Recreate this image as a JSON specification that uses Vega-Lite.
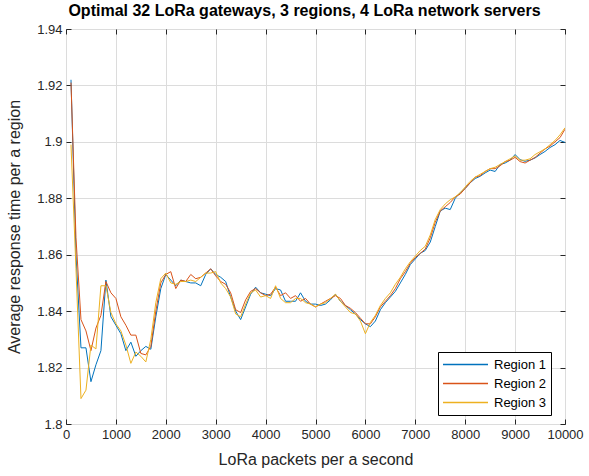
{
  "$schema": "https://vega.github.io/schema/vega-lite/v6.json",
  "width": 499,
  "height": 395,
  "autosize": {"type": "none"},
  "padding": {"left": 66, "top": 29, "right": 24, "bottom": 52},
  "background": "white",
  "title": {"text": "Optimal 32 LoRa gateways, 3 regions, 4 LoRa network servers", "font": "Liberation Sans", "fontSize": 16, "fontWeight": "bold", "color": "#000000", "offset": 4, "dx": -11},
  "config": {
    "view": {"stroke": "#262626", "strokeWidth": 1},
    "font": "Liberation Sans",
    "axis": {"labelFont": "Liberation Sans", "titleFont": "Liberation Sans", "labelColor": "#262626", "titleColor": "#262626", "labelFontSize": 13, "titleFontSize": 16, "titleFontWeight": "normal", "gridColor": "#dcdcdc", "gridWidth": 1, "domainColor": "#262626", "tickColor": "#262626", "tickSize": -5, "labelPadding": 9, "labelOverlap": false, "labelFlush": false}
  },
  "datasets": {
    "d": [
      {"x":100,"y":1.922,"s":"Region 1"},{"x":200,"y":1.86,"s":"Region 1"},{"x":300,"y":1.827,"s":"Region 1"},{"x":400,"y":1.827,"s":"Region 1"},{"x":500,"y":1.815,"s":"Region 1"},{"x":600,"y":1.821,"s":"Region 1"},{"x":700,"y":1.826,"s":"Region 1"},{"x":800,"y":1.851,"s":"Region 1"},{"x":900,"y":1.838,"s":"Region 1"},{"x":1000,"y":1.835,"s":"Region 1"},
      {"x":1100,"y":1.832,"s":"Region 1"},{"x":1200,"y":1.826,"s":"Region 1"},{"x":1300,"y":1.829,"s":"Region 1"},{"x":1400,"y":1.824,"s":"Region 1"},{"x":1500,"y":1.826,"s":"Region 1"},{"x":1600,"y":1.8275,"s":"Region 1"},{"x":1700,"y":1.8265,"s":"Region 1"},{"x":1800,"y":1.838,"s":"Region 1"},{"x":1900,"y":1.848,"s":"Region 1"},{"x":2000,"y":1.853,"s":"Region 1"},
      {"x":2100,"y":1.851,"s":"Region 1"},{"x":2200,"y":1.849,"s":"Region 1"},{"x":2300,"y":1.851,"s":"Region 1"},{"x":2400,"y":1.8505,"s":"Region 1"},{"x":2500,"y":1.85,"s":"Region 1"},{"x":2600,"y":1.85,"s":"Region 1"},{"x":2700,"y":1.849,"s":"Region 1"},{"x":2800,"y":1.853,"s":"Region 1"},{"x":2900,"y":1.855,"s":"Region 1"},{"x":3000,"y":1.853,"s":"Region 1"},
      {"x":3100,"y":1.852,"s":"Region 1"},{"x":3200,"y":1.8505,"s":"Region 1"},{"x":3300,"y":1.845,"s":"Region 1"},{"x":3400,"y":1.84,"s":"Region 1"},{"x":3500,"y":1.837,"s":"Region 1"},{"x":3600,"y":1.8415,"s":"Region 1"},{"x":3700,"y":1.846,"s":"Region 1"},{"x":3800,"y":1.8485,"s":"Region 1"},{"x":3900,"y":1.8465,"s":"Region 1"},{"x":4000,"y":1.846,"s":"Region 1"},
      {"x":4100,"y":1.8455,"s":"Region 1"},{"x":4200,"y":1.848,"s":"Region 1"},{"x":4300,"y":1.8475,"s":"Region 1"},{"x":4400,"y":1.8435,"s":"Region 1"},{"x":4500,"y":1.8435,"s":"Region 1"},{"x":4600,"y":1.8435,"s":"Region 1"},{"x":4700,"y":1.8465,"s":"Region 1"},{"x":4800,"y":1.8435,"s":"Region 1"},{"x":4900,"y":1.8425,"s":"Region 1"},{"x":5000,"y":1.8425,"s":"Region 1"},
      {"x":5100,"y":1.842,"s":"Region 1"},{"x":5200,"y":1.8425,"s":"Region 1"},{"x":5300,"y":1.844,"s":"Region 1"},{"x":5400,"y":1.846,"s":"Region 1"},{"x":5500,"y":1.8435,"s":"Region 1"},{"x":5600,"y":1.842,"s":"Region 1"},{"x":5700,"y":1.8405,"s":"Region 1"},{"x":5800,"y":1.839,"s":"Region 1"},{"x":5900,"y":1.837,"s":"Region 1"},{"x":6000,"y":1.8355,"s":"Region 1"},
      {"x":6100,"y":1.8345,"s":"Region 1"},{"x":6200,"y":1.8365,"s":"Region 1"},{"x":6300,"y":1.8405,"s":"Region 1"},{"x":6400,"y":1.843,"s":"Region 1"},{"x":6500,"y":1.845,"s":"Region 1"},{"x":6600,"y":1.847,"s":"Region 1"},{"x":6700,"y":1.85,"s":"Region 1"},{"x":6800,"y":1.853,"s":"Region 1"},{"x":6900,"y":1.8565,"s":"Region 1"},{"x":7000,"y":1.8585,"s":"Region 1"},
      {"x":7100,"y":1.8605,"s":"Region 1"},{"x":7200,"y":1.8615,"s":"Region 1"},{"x":7300,"y":1.8645,"s":"Region 1"},{"x":7400,"y":1.87,"s":"Region 1"},{"x":7500,"y":1.8755,"s":"Region 1"},{"x":7600,"y":1.8765,"s":"Region 1"},{"x":7700,"y":1.876,"s":"Region 1"},{"x":7800,"y":1.88,"s":"Region 1"},{"x":7900,"y":1.882,"s":"Region 1"},{"x":8000,"y":1.8835,"s":"Region 1"},
      {"x":8100,"y":1.8855,"s":"Region 1"},{"x":8200,"y":1.887,"s":"Region 1"},{"x":8300,"y":1.8878,"s":"Region 1"},{"x":8400,"y":1.889,"s":"Region 1"},{"x":8500,"y":1.89,"s":"Region 1"},{"x":8600,"y":1.8895,"s":"Region 1"},{"x":8700,"y":1.892,"s":"Region 1"},{"x":8800,"y":1.8925,"s":"Region 1"},{"x":8900,"y":1.8935,"s":"Region 1"},{"x":9000,"y":1.8955,"s":"Region 1"},
      {"x":9100,"y":1.8937,"s":"Region 1"},{"x":9200,"y":1.8931,"s":"Region 1"},{"x":9300,"y":1.8935,"s":"Region 1"},{"x":9400,"y":1.8943,"s":"Region 1"},{"x":9500,"y":1.8955,"s":"Region 1"},{"x":9600,"y":1.8966,"s":"Region 1"},{"x":9700,"y":1.898,"s":"Region 1"},{"x":9800,"y":1.899,"s":"Region 1"},{"x":9900,"y":1.9005,"s":"Region 1"},{"x":10000,"y":1.8998,"s":"Region 1"},

      {"x":100,"y":1.921,"s":"Region 2"},{"x":200,"y":1.866,"s":"Region 2"},{"x":300,"y":1.837,"s":"Region 2"},{"x":400,"y":1.833,"s":"Region 2"},{"x":500,"y":1.826,"s":"Region 2"},{"x":600,"y":1.834,"s":"Region 2"},{"x":700,"y":1.8385,"s":"Region 2"},{"x":800,"y":1.8505,"s":"Region 2"},{"x":900,"y":1.8465,"s":"Region 2"},{"x":1000,"y":1.8445,"s":"Region 2"},
      {"x":1100,"y":1.838,"s":"Region 2"},{"x":1200,"y":1.835,"s":"Region 2"},{"x":1300,"y":1.8315,"s":"Region 2"},{"x":1400,"y":1.8315,"s":"Region 2"},{"x":1500,"y":1.825,"s":"Region 2"},{"x":1600,"y":1.8245,"s":"Region 2"},{"x":1700,"y":1.8275,"s":"Region 2"},{"x":1800,"y":1.84,"s":"Region 2"},{"x":1900,"y":1.85,"s":"Region 2"},{"x":2000,"y":1.853,"s":"Region 2"},
      {"x":2100,"y":1.854,"s":"Region 2"},{"x":2200,"y":1.848,"s":"Region 2"},{"x":2300,"y":1.851,"s":"Region 2"},{"x":2400,"y":1.8505,"s":"Region 2"},{"x":2500,"y":1.853,"s":"Region 2"},{"x":2600,"y":1.8515,"s":"Region 2"},{"x":2700,"y":1.852,"s":"Region 2"},{"x":2800,"y":1.8535,"s":"Region 2"},{"x":2900,"y":1.855,"s":"Region 2"},{"x":3000,"y":1.8525,"s":"Region 2"},
      {"x":3100,"y":1.8505,"s":"Region 2"},{"x":3200,"y":1.8495,"s":"Region 2"},{"x":3300,"y":1.8465,"s":"Region 2"},{"x":3400,"y":1.8405,"s":"Region 2"},{"x":3500,"y":1.8395,"s":"Region 2"},{"x":3600,"y":1.844,"s":"Region 2"},{"x":3700,"y":1.847,"s":"Region 2"},{"x":3800,"y":1.848,"s":"Region 2"},{"x":3900,"y":1.8465,"s":"Region 2"},{"x":4000,"y":1.8455,"s":"Region 2"},
      {"x":4100,"y":1.846,"s":"Region 2"},{"x":4200,"y":1.8485,"s":"Region 2"},{"x":4300,"y":1.8455,"s":"Region 2"},{"x":4400,"y":1.8465,"s":"Region 2"},{"x":4500,"y":1.8445,"s":"Region 2"},{"x":4600,"y":1.8455,"s":"Region 2"},{"x":4700,"y":1.8435,"s":"Region 2"},{"x":4800,"y":1.8445,"s":"Region 2"},{"x":4900,"y":1.8425,"s":"Region 2"},{"x":5000,"y":1.8415,"s":"Region 2"},
      {"x":5100,"y":1.8425,"s":"Region 2"},{"x":5200,"y":1.8435,"s":"Region 2"},{"x":5300,"y":1.8445,"s":"Region 2"},{"x":5400,"y":1.8455,"s":"Region 2"},{"x":5500,"y":1.8445,"s":"Region 2"},{"x":5600,"y":1.842,"s":"Region 2"},{"x":5700,"y":1.841,"s":"Region 2"},{"x":5800,"y":1.8395,"s":"Region 2"},{"x":5900,"y":1.8375,"s":"Region 2"},{"x":6000,"y":1.8355,"s":"Region 2"},
      {"x":6100,"y":1.8355,"s":"Region 2"},{"x":6200,"y":1.838,"s":"Region 2"},{"x":6300,"y":1.8415,"s":"Region 2"},{"x":6400,"y":1.8435,"s":"Region 2"},{"x":6500,"y":1.8455,"s":"Region 2"},{"x":6600,"y":1.848,"s":"Region 2"},{"x":6700,"y":1.8515,"s":"Region 2"},{"x":6800,"y":1.854,"s":"Region 2"},{"x":6900,"y":1.857,"s":"Region 2"},{"x":7000,"y":1.859,"s":"Region 2"},
      {"x":7100,"y":1.8605,"s":"Region 2"},{"x":7200,"y":1.862,"s":"Region 2"},{"x":7300,"y":1.866,"s":"Region 2"},{"x":7400,"y":1.8715,"s":"Region 2"},{"x":7500,"y":1.8755,"s":"Region 2"},{"x":7600,"y":1.877,"s":"Region 2"},{"x":7700,"y":1.8785,"s":"Region 2"},{"x":7800,"y":1.8805,"s":"Region 2"},{"x":7900,"y":1.8815,"s":"Region 2"},{"x":8000,"y":1.8835,"s":"Region 2"},
      {"x":8100,"y":1.8855,"s":"Region 2"},{"x":8200,"y":1.8875,"s":"Region 2"},{"x":8300,"y":1.888,"s":"Region 2"},{"x":8400,"y":1.8895,"s":"Region 2"},{"x":8500,"y":1.8905,"s":"Region 2"},{"x":8600,"y":1.8905,"s":"Region 2"},{"x":8700,"y":1.8915,"s":"Region 2"},{"x":8800,"y":1.893,"s":"Region 2"},{"x":8900,"y":1.8935,"s":"Region 2"},{"x":9000,"y":1.8945,"s":"Region 2"},
      {"x":9100,"y":1.893,"s":"Region 2"},{"x":9200,"y":1.8925,"s":"Region 2"},{"x":9300,"y":1.8935,"s":"Region 2"},{"x":9400,"y":1.8945,"s":"Region 2"},{"x":9500,"y":1.896,"s":"Region 2"},{"x":9600,"y":1.8975,"s":"Region 2"},{"x":9700,"y":1.8985,"s":"Region 2"},{"x":9800,"y":1.9,"s":"Region 2"},{"x":9900,"y":1.9015,"s":"Region 2"},{"x":10000,"y":1.9045,"s":"Region 2"},

      {"x":100,"y":1.899,"s":"Region 3"},{"x":200,"y":1.855,"s":"Region 3"},{"x":300,"y":1.809,"s":"Region 3"},{"x":400,"y":1.812,"s":"Region 3"},{"x":500,"y":1.828,"s":"Region 3"},{"x":600,"y":1.8266,"s":"Region 3"},{"x":700,"y":1.849,"s":"Region 3"},{"x":800,"y":1.849,"s":"Region 3"},{"x":900,"y":1.8395,"s":"Region 3"},{"x":1000,"y":1.8355,"s":"Region 3"},
      {"x":1100,"y":1.833,"s":"Region 3"},{"x":1200,"y":1.828,"s":"Region 3"},{"x":1300,"y":1.8215,"s":"Region 3"},{"x":1400,"y":1.8255,"s":"Region 3"},{"x":1500,"y":1.824,"s":"Region 3"},{"x":1600,"y":1.822,"s":"Region 3"},{"x":1700,"y":1.83,"s":"Region 3"},{"x":1800,"y":1.843,"s":"Region 3"},{"x":1900,"y":1.8515,"s":"Region 3"},{"x":2000,"y":1.8535,"s":"Region 3"},
      {"x":2100,"y":1.85,"s":"Region 3"},{"x":2200,"y":1.8495,"s":"Region 3"},{"x":2300,"y":1.8505,"s":"Region 3"},{"x":2400,"y":1.8505,"s":"Region 3"},{"x":2500,"y":1.851,"s":"Region 3"},{"x":2600,"y":1.8505,"s":"Region 3"},{"x":2700,"y":1.852,"s":"Region 3"},{"x":2800,"y":1.8535,"s":"Region 3"},{"x":2900,"y":1.8535,"s":"Region 3"},{"x":3000,"y":1.854,"s":"Region 3"},
      {"x":3100,"y":1.85,"s":"Region 3"},{"x":3200,"y":1.848,"s":"Region 3"},{"x":3300,"y":1.845,"s":"Region 3"},{"x":3400,"y":1.839,"s":"Region 3"},{"x":3500,"y":1.838,"s":"Region 3"},{"x":3600,"y":1.8425,"s":"Region 3"},{"x":3700,"y":1.8465,"s":"Region 3"},{"x":3800,"y":1.8475,"s":"Region 3"},{"x":3900,"y":1.845,"s":"Region 3"},{"x":4000,"y":1.8455,"s":"Region 3"},
      {"x":4100,"y":1.8445,"s":"Region 3"},{"x":4200,"y":1.849,"s":"Region 3"},{"x":4300,"y":1.8445,"s":"Region 3"},{"x":4400,"y":1.843,"s":"Region 3"},{"x":4500,"y":1.843,"s":"Region 3"},{"x":4600,"y":1.8445,"s":"Region 3"},{"x":4700,"y":1.8445,"s":"Region 3"},{"x":4800,"y":1.843,"s":"Region 3"},{"x":4900,"y":1.8425,"s":"Region 3"},{"x":5000,"y":1.8415,"s":"Region 3"},
      {"x":5100,"y":1.8425,"s":"Region 3"},{"x":5200,"y":1.843,"s":"Region 3"},{"x":5300,"y":1.8445,"s":"Region 3"},{"x":5400,"y":1.846,"s":"Region 3"},{"x":5500,"y":1.8435,"s":"Region 3"},{"x":5600,"y":1.8415,"s":"Region 3"},{"x":5700,"y":1.8395,"s":"Region 3"},{"x":5800,"y":1.839,"s":"Region 3"},{"x":5900,"y":1.8365,"s":"Region 3"},{"x":6000,"y":1.832,"s":"Region 3"},
      {"x":6100,"y":1.836,"s":"Region 3"},{"x":6200,"y":1.8385,"s":"Region 3"},{"x":6300,"y":1.842,"s":"Region 3"},{"x":6400,"y":1.8445,"s":"Region 3"},{"x":6500,"y":1.8465,"s":"Region 3"},{"x":6600,"y":1.8495,"s":"Region 3"},{"x":6700,"y":1.852,"s":"Region 3"},{"x":6800,"y":1.855,"s":"Region 3"},{"x":6900,"y":1.8575,"s":"Region 3"},{"x":7000,"y":1.8595,"s":"Region 3"},
      {"x":7100,"y":1.8615,"s":"Region 3"},{"x":7200,"y":1.863,"s":"Region 3"},{"x":7300,"y":1.867,"s":"Region 3"},{"x":7400,"y":1.8725,"s":"Region 3"},{"x":7500,"y":1.876,"s":"Region 3"},{"x":7600,"y":1.878,"s":"Region 3"},{"x":7700,"y":1.8795,"s":"Region 3"},{"x":7800,"y":1.8805,"s":"Region 3"},{"x":7900,"y":1.882,"s":"Region 3"},{"x":8000,"y":1.884,"s":"Region 3"},
      {"x":8100,"y":1.886,"s":"Region 3"},{"x":8200,"y":1.8875,"s":"Region 3"},{"x":8300,"y":1.8885,"s":"Region 3"},{"x":8400,"y":1.8895,"s":"Region 3"},{"x":8500,"y":1.8905,"s":"Region 3"},{"x":8600,"y":1.891,"s":"Region 3"},{"x":8700,"y":1.892,"s":"Region 3"},{"x":8800,"y":1.893,"s":"Region 3"},{"x":8900,"y":1.894,"s":"Region 3"},{"x":9000,"y":1.895,"s":"Region 3"},
      {"x":9100,"y":1.8935,"s":"Region 3"},{"x":9200,"y":1.8935,"s":"Region 3"},{"x":9300,"y":1.894,"s":"Region 3"},{"x":9400,"y":1.8955,"s":"Region 3"},{"x":9500,"y":1.8965,"s":"Region 3"},{"x":9600,"y":1.8975,"s":"Region 3"},{"x":9700,"y":1.899,"s":"Region 3"},{"x":9800,"y":1.9005,"s":"Region 3"},{"x":9900,"y":1.9025,"s":"Region 3"},{"x":10000,"y":1.905,"s":"Region 3"}
    ]
  },
  "data": {"name": "d"},
  "layer": [
    {
      "mark": {"type": "line", "strokeWidth": 1, "clip": true},
      "encoding": {
        "x": {"field": "x", "type": "quantitative", "scale": {"domain": [0, 10000], "nice": false}, "axis": {"orient": "bottom", "values": [0,1000,2000,3000,4000,5000,6000,7000,8000,9000,10000], "format": "d", "title": "LoRa packets per a second", "titlePadding": 10, "grid": true, "domain": false}},
        "y": {"field": "y", "type": "quantitative", "scale": {"domain": [1.8, 1.94], "nice": false, "zero": false}, "axis": {"orient": "left", "values": [1.8,1.82,1.84,1.86,1.88,1.9,1.92,1.94], "format": ".3~g", "title": "Average response time per a region", "titlePadding": 14, "grid": true, "domain": false}},
        "color": {"field": "s", "type": "nominal", "scale": {"domain": ["Region 1", "Region 2", "Region 3"], "range": ["#0072BD", "#D95319", "#EDB120"]}, "legend": {"title": null, "orient": "none", "legendX": 372, "legendY": 323, "direction": "vertical", "symbolType": "stroke", "symbolSize": 2025, "symbolStrokeWidth": 1.5, "labelFontSize": 13, "labelFont": "Liberation Sans", "labelColor": "#000000", "labelOffset": 5, "strokeColor": "#000000", "fillColor": "#ffffff", "padding": 4, "rowPadding": 2, "clipHeight": 17, "cornerRadius": 0}}
      }
    },
    {
      "mark": {"type": "line", "strokeOpacity": 0},
      "encoding": {
        "x": {"field": "x", "type": "quantitative", "scale": {"domain": [0, 10000], "nice": false}, "axis": {"orient": "top", "values": [0,1000,2000,3000,4000,5000,6000,7000,8000,9000,10000], "labels": false, "title": null, "grid": false, "domain": false}},
        "y": {"field": "y", "type": "quantitative", "scale": {"domain": [1.8, 1.94], "nice": false, "zero": false}, "axis": {"orient": "right", "values": [1.8,1.82,1.84,1.86,1.88,1.9,1.92,1.94], "labels": false, "title": null, "grid": false, "domain": false}},
        "detail": {"field": "s", "type": "nominal"}
      }
    }
  ],
  "resolve": {"axis": {"x": "independent", "y": "independent"}}
}
